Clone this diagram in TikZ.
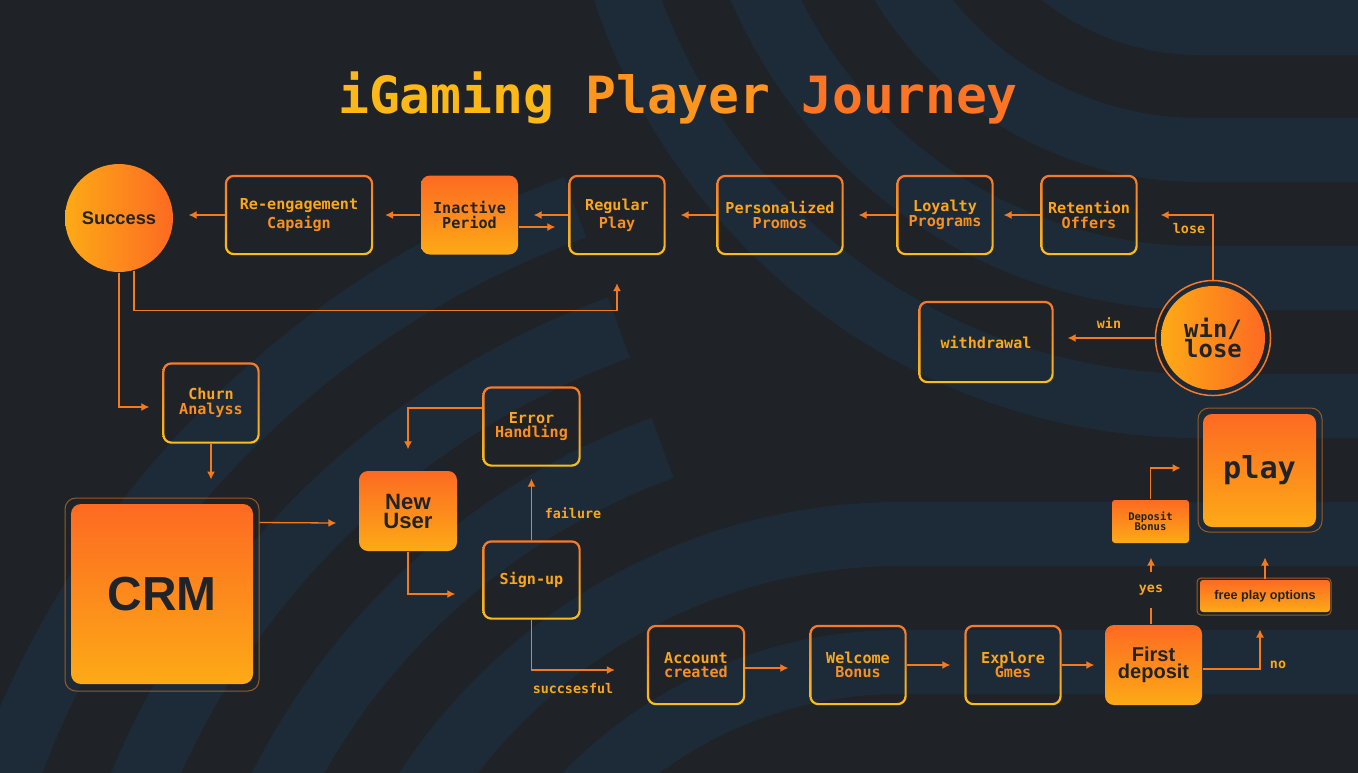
\documentclass[tikz,border=0pt]{standalone}
\usepackage{fontspec}
\setsansfont{Liberation Sans}
\newfontfamily\monofam{DejaVu Sans Mono}
\usetikzlibrary{arrows.meta}
\definecolor{bgdark}{HTML}{1F2327}
\definecolor{bandblue}{HTML}{1C2B37}
\definecolor{hotorange}{HTML}{FD6A22}
\definecolor{hotyellow}{HTML}{FDAA16}
\definecolor{lineorange}{HTML}{F7782A}
\definecolor{lineyellow}{HTML}{FBBE1A}
\definecolor{boxtext}{HTML}{FBA61C}
\definecolor{boxtextB}{HTML}{F98F22}
\definecolor{inkdark}{HTML}{202327}
\definecolor{wirecol}{HTML}{F57A1E}
\definecolor{haloline}{HTML}{9A5A24}
\definecolor{titleA}{HTML}{FBB817}
\definecolor{titleB}{HTML}{FD951F}
\definecolor{titleC}{HTML}{FD7424}
\newcommand{\gframe}[1]{%
  \shade[top color=lineorange, bottom color=lineyellow, even odd rule, rounded corners=0.9mm]
    (#1.north west) rectangle (#1.south east)
    [rounded corners=0.7mm] ([shift={(2.2,2.2)}]#1.north west) rectangle ([shift={(-2.2,-2.2)}]#1.south east);}

\begin{document}
\begin{tikzpicture}[x=0.1mm, y=-0.1mm,
  obox/.style={rectangle, rounded corners=0.9mm, minimum width=9.7mm, minimum height=7.9mm,
    inner sep=0pt, align=center, text=boxtext, font=\monofam\bfseries\fontsize{4.3}{4.1}\selectfont},
  hotbox/.style={obox, shade, top color=hotorange, bottom color=hotyellow, shading angle=0, text=inkdark},
  halo/.style={rectangle, draw=haloline, line width=0.1mm, rounded corners=1.1mm, inner sep=0pt},
  bigdisc/.style={circle, inner sep=0pt, align=center, shade, left color=hotyellow, right color=hotorange, text=inkdark},
  flow/.style={draw=wirecol, line width=0.13mm, -{Latex[length=0.8mm, width=0.8mm]}},
  wire/.style={draw=wirecol, line width=0.13mm},
  tag/.style={text=boxtext, inner sep=0pt, font=\monofam\bfseries\fontsize{3.8}{4}\selectfont}
]
  \useasboundingbox (0,0) rectangle (1358,772);
  \fill[bgdark] (-20,-20) rectangle (1378,792);
  \begin{scope}
    \clip (-20,-20) rectangle (1378,792);
    \fill[bandblue] (945,-300) -- (945,-200) arc[start angle=180, end angle=270, radius=25.5mm]
      -- (1420,55) -- (1420,-300) -- cycle;
    \foreach \r in {350,478,606}
      \draw[bandblue, line width=6.4mm] (1200-\r,-300) -- (1200-\r,-200)
        arc[start angle=180, end angle=270, radius=\r*0.1mm] -- (1420,-200+\r);
    \foreach \r in {438,566}
      \draw[bandblue, line width=6.4mm] (900-\r,1200) -- (900-\r,1100)
        arc[start angle=180, end angle=90, radius=\r*0.1mm] -- (1420,1100-\r);
    \foreach \r in {694,822,950}
      \draw[bandblue, line width=6.4mm] (900-\r,1200) -- (900-\r,1100)
        arc[start angle=180, end angle=110, radius=\r*0.1mm];
  \end{scope}

  \node[font=\monofam\bfseries\fontsize{14.6}{16}\selectfont] (title) at (678,98)
    {\textcolor{titleA}{iGaming} \textcolor{titleB}{Player} \textcolor{titleC}{Journey}};

  \node[bigdisc, minimum size=10.8mm, font=\sffamily\bfseries\fontsize{5.2}{6}\selectfont] (succ) at (119,218) {Success};
  \node[obox, minimum width=14.7mm] (reeng) at (299,215) {Re-engagement\\\textcolor{boxtextB}{Capaign}};
  \node[hotbox] (inact) at (469.5,215) {Inactive\\Period};
  \node[obox, minimum width=9.6mm] (regular) at (617,215) {Regular\\\textcolor{boxtextB}{Play}};
  \node[obox, minimum width=12.6mm] (promos) at (780,215) {Personalized\\\textcolor{boxtextB}{Promos}};
  \node[obox, minimum width=9.6mm] (loyal) at (945,215) {Loyalty\\\textcolor{boxtextB}{Programs}};
  \node[obox, minimum width=9.6mm] (retent) at (1089,215) {Retention\\\textcolor{boxtextB}{Offers}};

  \node[bigdisc, minimum size=10.4mm, outer sep=0.55mm, font=\monofam\bfseries\fontsize{6.8}{5.9}\selectfont] (wl) at (1213,338) {win/\\lose};
  \draw[lineorange, line width=0.15mm] (wl.center) circle[radius=5.75mm];
  \node[obox, minimum width=13.4mm, minimum height=8.1mm] (withd) at (986,342) {withdrawal};

  \node[obox, minimum width=9.6mm, minimum height=8mm] (churn) at (211,403) {Churn\\\textcolor{boxtextB}{Analyss}};
  \node[halo, minimum width=19.4mm, minimum height=19.3mm] (crmf) at (162,594.5) {};
  \node[hotbox, minimum width=18.2mm, minimum height=18mm, rounded corners=1mm,
    font=\sffamily\bfseries\fontsize{13.6}{14}\selectfont] (crm) at (162,594) {CRM};
  \node[hotbox, minimum width=9.8mm, minimum height=8mm,
    font=\sffamily\bfseries\fontsize{6.3}{5.4}\selectfont] (newu) at (408,511) {New\\User};
  \node[obox] (errh) at (531.5,426.5) {Error\\\textcolor{boxtextB}{Handling}};
  \node[obox, minimum height=7.8mm] (signup) at (531.5,580) {Sign-up};

  \node[obox] (acct) at (696,665) {Account\\\textcolor{boxtextB}{created}};
  \node[obox, minimum width=9.6mm] (welc) at (858,665) {Welcome\\\textcolor{boxtextB}{Bonus}};
  \node[obox, minimum width=9.6mm] (expl) at (1013,665) {Explore\\\textcolor{boxtextB}{Gmes}};
  \node[hotbox, minimum height=8mm, font=\sffamily\bfseries\fontsize{5.7}{4.8}\selectfont] (first) at (1153.5,665) {First\\deposit};

  \node[hotbox, minimum width=7.7mm, minimum height=4.3mm, rounded corners=0.3mm,
    font=\monofam\bfseries\fontsize{3}{3}\selectfont] (dbonus) at (1150.5,521.5) {Deposit\\Bonus};
  \node[halo, minimum width=12.4mm, minimum height=12.4mm] (playf) at (1260,470) {};
  \node[hotbox, minimum width=11.3mm, minimum height=11.3mm,
    font=\monofam\bfseries\fontsize{8.6}{9}\selectfont] (play) at (1259.5,470.5) {play};
  \node[halo, minimum width=13.4mm, minimum height=3.7mm, rounded corners=0.4mm] (freef) at (1264,596.5) {};
  \node[hotbox, minimum width=13mm, minimum height=3.2mm, rounded corners=0.3mm,
    font=\sffamily\bfseries\fontsize{3.6}{4}\selectfont] (free) at (1265,596) {free play options};

  \foreach \n in {reeng,regular,promos,loyal,retent,withd,churn,errh,signup,acct,welc,expl}
    \gframe{\n};

  \node[tag] (losel) at (1189,229) {lose};
  \node[tag] (winl) at (1109,323) {win};
  \node[tag] (faill) at (573,513) {failure};
  \node[tag] (succl) at (573,689) {succsesful};
  \node[tag, minimum height=3.4mm] (yesl) at (1151,590) {yes};
  \node[tag] (nol) at (1278,665) {no};

  \draw[flow, shorten >=1.5mm] (reeng.west) -- (reeng.west -| succ.east);
  \draw[flow, shorten >=1.2mm] (inact.west) -- (inact.west -| reeng.east);
  \draw[flow, shorten >=1.5mm] (regular.west) -- (regular.west -| inact.east);
  \draw[flow, shorten >=1.3mm] ([yshift=-1.2mm]inact.east) -- ([yshift=-1.2mm]regular.west);
  \draw[flow, shorten >=1.5mm] (promos.west) -- (promos.west -| regular.east);
  \draw[flow, shorten >=1.5mm] (loyal.west) -- (loyal.west -| promos.east);
  \draw[flow, shorten >=1mm] (retent.west) -- (retent.west -| loyal.east);
  \draw[flow, shorten >=2.3mm] (wl.north) |- (retent.east);
  \draw[flow, shorten >=1.4mm] (wl.west) -- (wl.west -| withd.east);
  \draw[flow] (succ.-74) |- ([yshift=-5.5mm]regular.south) -- ([yshift=-2.8mm]regular.south);
  \draw[flow, shorten >=1.3mm] (succ.south) |- ([yshift=-0.4mm]churn.west);
  \draw[flow, shorten >=1.8mm] (churn.south) -- (churn.south |- crmf.north);
  \draw[flow] ([yshift=7.2mm]crmf.east) -- ([yshift=-1.2mm, xshift=-2.2mm]newu.west);
  \draw[flow, shorten >=2.7mm] (newu.south) |- ([yshift=-1.4mm]signup.west);
  \draw[flow, shorten >=1.2mm] (signup.north) -- (errh.south);
  \draw[flow, shorten >=2.1mm] ([yshift=1.85mm]errh.west) -| (newu.north);
  \draw[flow, shorten >=3.2mm] (signup.south) |- ([yshift=-0.5mm]acct.west);
  \draw[flow, shorten >=2.1mm] ([yshift=-0.3mm]acct.east) -- ([yshift=-0.3mm]welc.west);
  \draw[flow, shorten >=1.4mm] (welc.east) -- (expl.west);
  \draw[flow, shorten >=1mm] (expl.east) -- (first.west);
  \draw[wire] (yesl.south |- first.north) -- (yesl.south);
  \draw[flow, shorten >=1.4mm] (yesl.north) -- (yesl.north |- dbonus.south);
  \draw[flow, shorten >=1.7mm] (dbonus.north) |- ([yshift=0.2mm]playf.west);
  \draw[flow, shorten >=1.4mm] ([yshift=-0.4mm]first.east) -| ([xshift=-0.4mm]freef.south);
  \draw[flow, shorten >=2.5mm] (free.north) -- (free.north |- playf.south);
\end{tikzpicture}
\end{document}
